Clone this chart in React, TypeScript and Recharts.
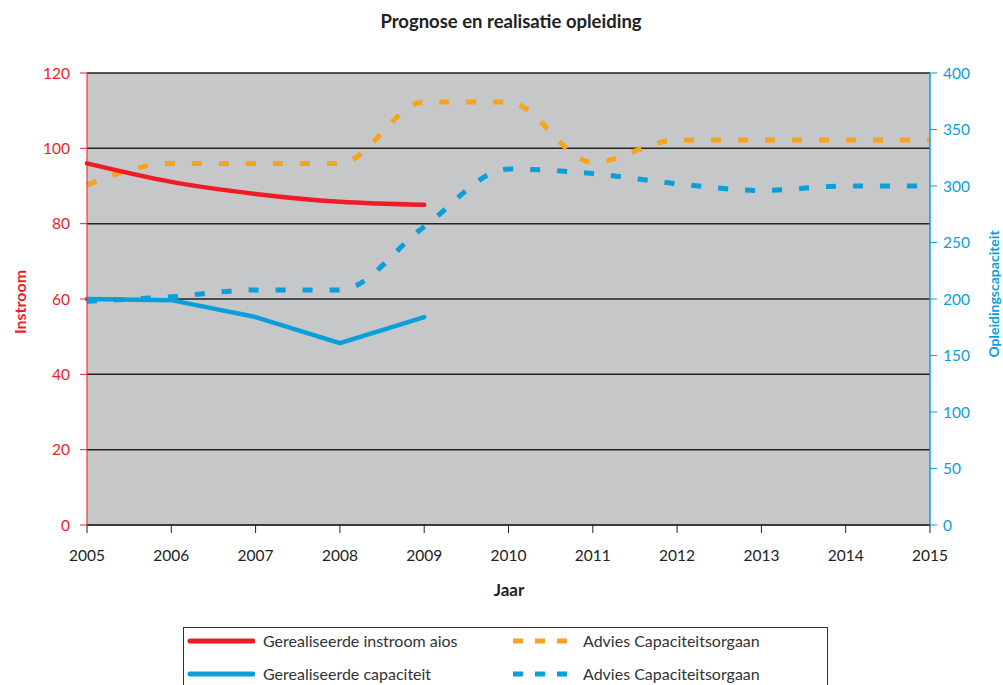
import React from 'react';
import {
  LineChart,
  Line,
  XAxis,
  YAxis,
  CartesianGrid,
} from 'recharts';

const years = [2005, 2006, 2007, 2008, 2009, 2010, 2011, 2012, 2013, 2014, 2015];
const instroom = [96, 91.1, 87.9, 85.8, 85.0, null, null, null, null, null, null];
const adviesInstroom = [90.3, 96, 96, 96, 112.3, 112.3, 96.3, 102.2, 102.2, 102.2, 102.2];
const capaciteit = [200, 199, 184, 161, 184, null, null, null, null, null, null];
const adviesCapaciteit = [198, 202, 208, 208, 264, 315, 311, 302, 296, 300, 300];
const leftTicks = [0, 20, 40, 60, 80, 100, 120];
const rightTicks = [0, 50, 100, 150, 200, 250, 300, 350, 400];

const RED = '#ee1c25';
const ORANGE = '#f7a31c';
const BLUE = '#0a9fdb';
const FONT = 'Lato, "Open Sans", sans-serif';

const data = years.map((year, i) => ({
  year,
  instroom: instroom[i],
  adviesInstroom: adviesInstroom[i],
  capaciteit: capaciteit[i],
  adviesCapaciteit: adviesCapaciteit[i],
}));

const legendItems = [
  { label: 'Gerealiseerde instroom aios', color: RED, dashed: false, x: 3, y: 13 },
  { label: 'Advies Capaciteitsorgaan', color: ORANGE, dashed: true, x: 329, y: 13 },
  { label: 'Gerealiseerde capaciteit', color: BLUE, dashed: false, x: 3, y: 46 },
  { label: 'Advies Capaciteitsorgaan', color: BLUE, dashed: true, x: 329, y: 46 },
];

function LegendBox() {
  return (
    <div
      style={{
        position: 'absolute',
        left: 183,
        top: 627,
        width: 645,
        height: 70,
        border: '1px solid #333',
        boxSizing: 'border-box',
        fontFamily: FONT,
        fontSize: 16,
        lineHeight: '18px',
        color: '#333',
      }}
    >
      {legendItems.map((item, i) => (
        <div
          key={i}
          style={{
            position: 'absolute',
            left: item.x,
            top: item.y - 9,
            height: 18,
            display: 'flex',
            alignItems: 'center',
            whiteSpace: 'nowrap',
          }}
        >
          <svg width={item.dashed ? 62 : 68} height={10} style={{ marginRight: 8 }}>
            <line
              x1={item.dashed ? 0 : 3}
              y1={5}
              x2={item.dashed ? 54 : 66}
              y2={5}
              stroke={item.color}
              strokeWidth={5}
              strokeLinecap={item.dashed ? 'butt' : 'round'}
              strokeDasharray={item.dashed ? '10 12' : undefined}
            />
          </svg>
          <span>{item.label}</span>
        </div>
      ))}
    </div>
  );
}

export default function App() {
  return (
    <div style={{ position: 'absolute', left: 0, top: 0, width: 1003, height: 685, background: '#fff', overflow: 'hidden' }}>
      <div
        style={{
          position: 'absolute',
          left: 261,
          top: 10,
          width: 500,
          textAlign: 'center',
          fontFamily: FONT,
          fontWeight: 700,
          fontSize: 18.5,
          color: '#222',
        }}
      >
        Prognose en realisatie opleiding
      </div>
      <LineChart
        width={1003}
        height={685}
        data={data}
        margin={{ top: 73, right: 13, bottom: 100, left: 27 }}
      >
        <CartesianGrid
          yAxisId="left"
          vertical={false}
          fill="#c6c7c9"
          fillOpacity={1}
          stroke="#222"
          strokeWidth={1.5}
        />
        <XAxis
          dataKey="year"
          type="number"
          domain={[2005, 2015]}
          ticks={years}
          height={60}
          tickSize={8}
          tickMargin={17}
          stroke="#222"
          tick={{ fill: '#222', fontSize: 15.5, fontFamily: FONT }}
          interval={0}
        />
        <YAxis
          yAxisId="left"
          domain={[0, 120]}
          ticks={leftTicks}
          width={60}
          tickSize={7}
          tickMargin={10}
          stroke={RED}
          tick={{ fill: RED, fontSize: 15.5, fontFamily: FONT }}
          interval={0}
        />
        <YAxis
          yAxisId="right"
          orientation="right"
          domain={[0, 400]}
          ticks={rightTicks}
          width={60}
          tickSize={7}
          tickMargin={6}
          stroke={BLUE}
          axisLine={{ stroke: BLUE, strokeWidth: 1.5 }}
          tick={{ fill: BLUE, fontSize: 15.5, fontFamily: FONT }}
          interval={0}
        />
        <Line
          yAxisId="left"
          type="monotone"
          dataKey="adviesInstroom"
          stroke={ORANGE}
          strokeWidth={5}
          strokeDasharray="10 17"
          dot={false}
          isAnimationActive={false}
        />
        <Line
          yAxisId="right"
          type="monotone"
          dataKey="adviesCapaciteit"
          stroke={BLUE}
          strokeWidth={5}
          strokeDasharray="10 17"
          dot={false}
          isAnimationActive={false}
        />
        <Line
          yAxisId="left"
          type="monotone"
          dataKey="instroom"
          stroke={RED}
          strokeWidth={4.5}
          strokeLinecap="round"
          dot={false}
          isAnimationActive={false}
        />
        <Line
          yAxisId="right"
          type="linear"
          dataKey="capaciteit"
          stroke={BLUE}
          strokeWidth={4.5}
          strokeLinecap="round"
          dot={false}
          isAnimationActive={false}
        />
      </LineChart>
      <div
        style={{
          position: 'absolute',
          left: 19,
          top: 302,
          transform: 'translate(-50%, -50%) rotate(-90deg)',
          fontFamily: FONT,
          fontWeight: 700,
          fontSize: 16,
          color: RED,
          whiteSpace: 'nowrap',
        }}
      >
        Instroom
      </div>
      <div
        style={{
          position: 'absolute',
          left: 993,
          top: 294,
          transform: 'translate(-50%, -50%) rotate(-90deg)',
          fontFamily: FONT,
          fontWeight: 700,
          fontSize: 14,
          color: BLUE,
          whiteSpace: 'nowrap',
        }}
      >
        Opleidingscapaciteit
      </div>
      <div
        style={{
          position: 'absolute',
          left: 509,
          top: 589,
          transform: 'translate(-50%, -50%)',
          fontFamily: FONT,
          fontWeight: 700,
          fontSize: 17,
          color: '#222',
        }}
      >
        Jaar
      </div>
      <LegendBox />
    </div>
  );
}
